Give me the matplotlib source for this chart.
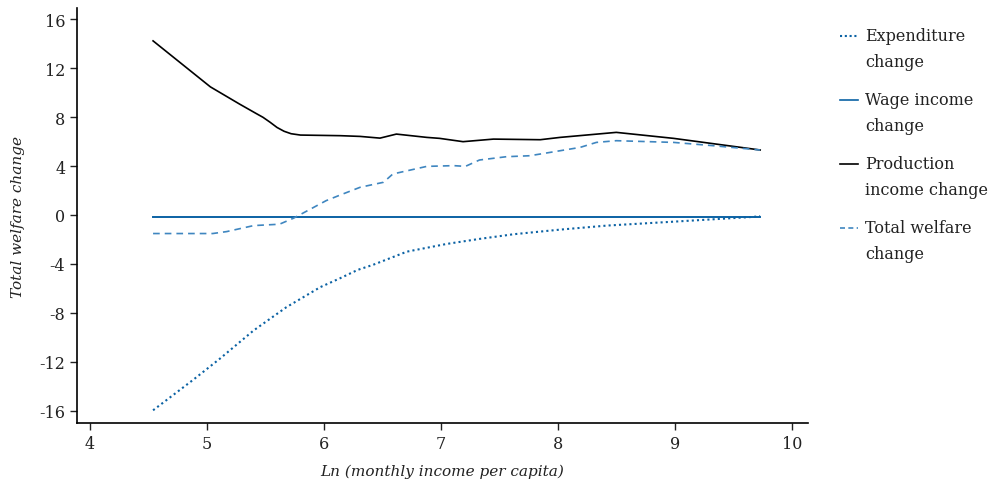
import matplotlib
matplotlib.use('Agg')
import matplotlib.pyplot as plt
from matplotlib.lines import Line2D

plt.rcParams['font.family'] = ['DejaVu Serif']
plt.rcParams['axes.unicode_minus'] = False

# 福利变化曲线（按对数人均月收入）
prod_x = [4.54, 5.03, 5.28, 5.42, 5.48, 5.54, 5.60, 5.66, 5.72, 5.80, 6.14,
          6.31, 6.48, 6.62, 6.88, 6.99, 7.19, 7.45, 7.85, 8.02, 8.50, 8.99,
          9.73]
prod_y = [14.23, 10.47, 9.06, 8.30, 7.98, 7.58, 7.15, 6.84, 6.64, 6.53, 6.48,
          6.42, 6.28, 6.61, 6.34, 6.26, 5.99, 6.20, 6.15, 6.34, 6.75, 6.26,
          5.31]

total_x = [4.54, 5.05, 5.17, 5.40, 5.62, 5.74, 6.02, 6.14, 6.31, 6.51, 6.59,
           6.88, 7.11, 7.21, 7.33, 7.56, 7.76, 7.85, 8.02, 8.19, 8.33, 8.50,
           8.99, 9.33, 9.73]
total_y = [-1.52, -1.52, -1.36, -0.87, -0.76, -0.27, 1.17, 1.63, 2.26, 2.67,
           3.35, 3.97, 4.03, 3.97, 4.49, 4.76, 4.84, 4.98, 5.25, 5.52, 5.93,
           6.07, 5.93, 5.66, 5.31]

exp_x = [4.54, 4.88, 5.11, 5.40, 5.68, 5.97, 6.14, 6.29, 6.42, 6.71, 7.05,
         7.33, 7.62, 7.85, 8.02, 8.42, 8.99, 9.67, 9.73]
exp_y = [-15.97, -13.5, -11.76, -9.44, -7.54, -5.9, -5.17, -4.49, -4.08, -3.0,
         -2.37, -1.96, -1.58, -1.36, -1.2, -0.87, -0.55, -0.16, -0.1]

wage_x = [4.54, 9.73]
wage_y = [-0.2, -0.2]

x_ticks = [4, 5, 6, 7, 8, 9, 10]
y_ticks = [-16, -12, -8, -4, 0, 4, 8, 12, 16]

legend_labels = ['Expenditure\nchange', 'Wage income\nchange',
                 'Production\nincome change', 'Total welfare\nchange']

BLUE = '#0b62a4'
LIGHT_BLUE = '#3f86c0'
TEXT = '#222222'

fig = plt.figure(figsize=(9.94, 4.85), dpi=100)
ax = fig.add_axes([0.0775, 0.126, 0.7355, 0.855])

ax.plot(exp_x, exp_y, color=BLUE, linewidth=1.5, linestyle=(0, (1, 1.5)))
ax.plot(wage_x, wage_y, color=BLUE, linewidth=1.4)
ax.plot(prod_x, prod_y, color='black', linewidth=1.2)
ax.plot(total_x, total_y, color=LIGHT_BLUE, linewidth=1.2,
        linestyle=(0, (4, 3)))

ax.set_xlim(3.89, 10.14)
ax.set_ylim(-17.0, 16.9)
ax.set_xticks(x_ticks)
ax.set_yticks(y_ticks)
ax.tick_params(labelsize=11.5, length=5, width=1, direction='out', colors=TEXT)
for side in ['top', 'right']:
    ax.spines[side].set_visible(False)
for side in ['left', 'bottom']:
    ax.spines[side].set_linewidth(1.2)

ax.set_xlabel('Ln (monthly income per capita)', fontsize=11, style='italic',
              color=TEXT)
ax.xaxis.set_label_coords(0.5, -0.098)
ax.set_ylabel('Total welfare change', fontsize=11, style='italic',
              labelpad=10, color=TEXT)

# 图例：手动绘制，线段对齐第一行文字
styles = [dict(color=BLUE, linewidth=1.5, linestyle=(0, (1, 1.3))),
          dict(color=BLUE, linewidth=1.2),
          dict(color='black', linewidth=1.2),
          dict(color=LIGHT_BLUE, linewidth=1.2, linestyle=(0, (3, 2)))]
W, H = 994, 485
for i, (label, st) in enumerate(zip(legend_labels, styles)):
    y_px = 37 + i * 64
    yf = 1 - y_px / H
    fig.add_artist(Line2D([840 / W, 858 / W], [yf, yf], **st))
    fig.text(865 / W, 1 - (y_px - 9) / H, label, fontsize=11.5, va='top',
             ha='left', linespacing=1.7, color=TEXT)

fig.savefig('out.png', dpi=100)
